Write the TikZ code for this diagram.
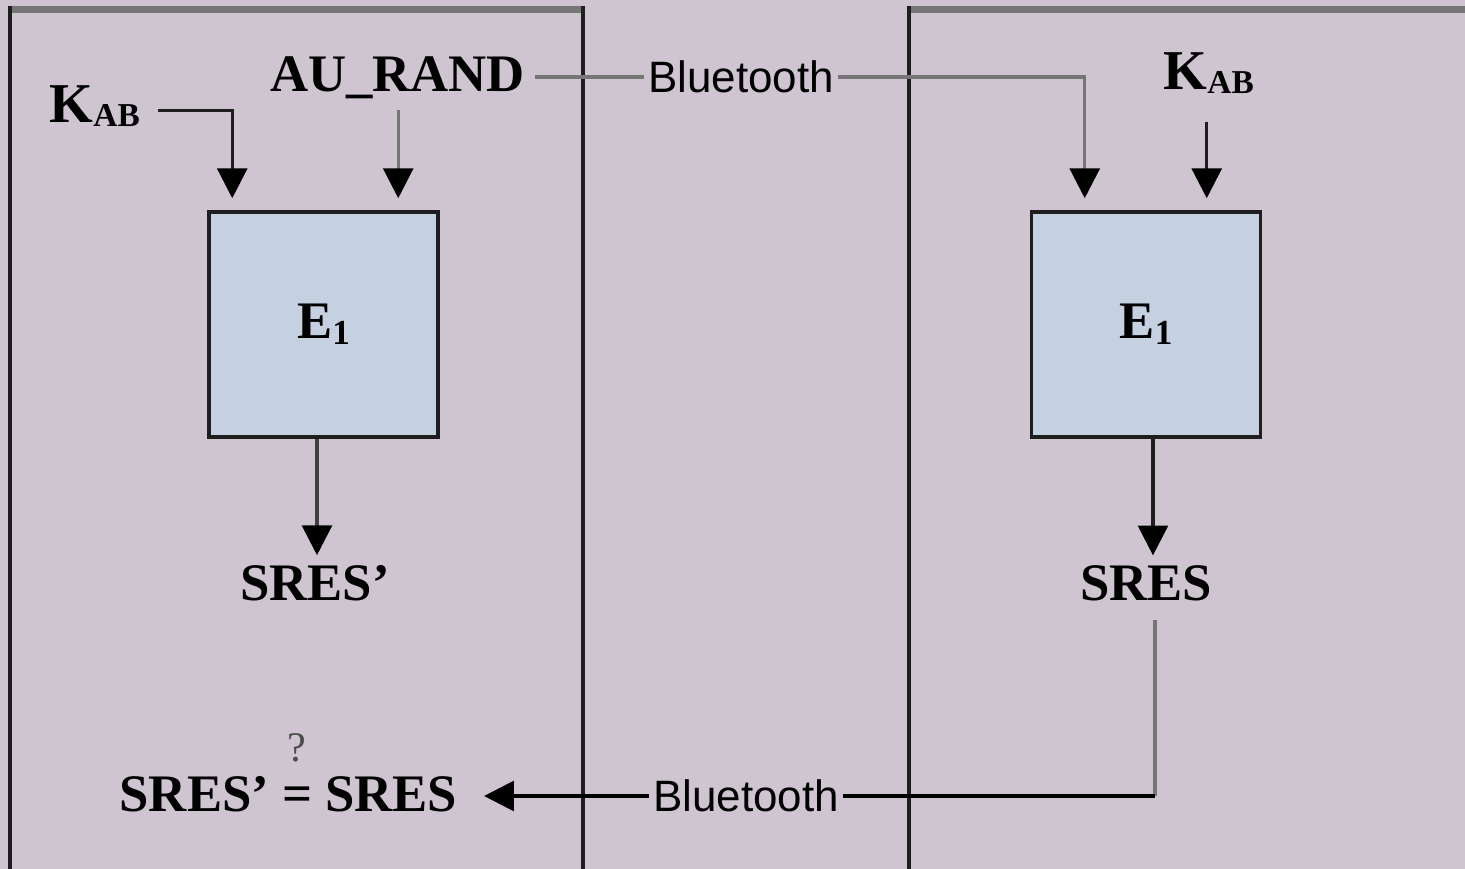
\documentclass[tikz,border=0pt]{standalone}
\usepackage{fontspec}
\setmainfont{Liberation Serif}
\newfontfamily\btfont{Liberation Sans}
\usetikzlibrary{arrows.meta,calc}
\definecolor{bg}{RGB}{206,197,209}
\definecolor{boxfill}{RGB}{197,208,224}
\definecolor{gline}{RGB}{118,118,118}
\definecolor{dline}{RGB}{30,30,30}
\newcommand{\lsub}[2]{\raisebox{#1}{\fontsize{9.5}{11}\selectfont #2}}
\begin{document}
\begin{tikzpicture}[
  lbl/.style={font=\fontsize{15}{18}\selectfont\bfseries, inner sep=0pt},
  qlbl/.style={font=\fontsize{12}{14}\selectfont, inner sep=0pt, text=black!70},
  bt/.style={font=\btfont\fontsize{12.5}{15}\selectfont, fill=bg, inner sep=1pt},
  lw/.style={line width=0.9pt},
  arr/.style={line width=0.9pt, -{Triangle[width=8.5pt,length=8.5pt,color=black]}},
  panel/.style={line width=1pt, draw=dline},
  ptop/.style={line width=1.8pt, draw=gline},
  ebox/.style={draw=dline, line width=1pt, fill=boxfill, minimum width=2.29cm,
    minimum height=2.25cm, inner sep=0pt, font=\fontsize{15}{18}\selectfont\bfseries}]
\useasboundingbox (0,0) rectangle (14.65,-8.69);
\fill[bg] (0,0) rectangle (14.65,-8.69);

% panels
\draw[ptop] (0.10,-0.095) -- (5.83,-0.095);
\draw[panel] (0.10,-0.06) -- (0.10,-8.69);
\draw[panel] (5.83,-0.06) -- (5.83,-8.69);
\draw[ptop] (9.09,-0.095) -- (14.65,-0.095);
\draw[panel] (9.09,-0.06) -- (9.09,-8.69);

% boxes
\node[ebox] (e1L) at (3.235,-3.245) {E\lsub{-1.7pt}{\fontsize{10}{12}\selectfont 1}};
\node[ebox] (e1R) at (11.46,-3.245) {E\lsub{-1.7pt}{\fontsize{10}{12}\selectfont 1}};

% labels
\node[lbl, anchor=base west, font=\fontsize{16}{18}\selectfont\bfseries] (kabL) at (0.49,-1.23) {K\lsub{-1.1pt}{AB}};
\node[lbl, anchor=base] (aurand) at (3.975,-0.92) {AU\_RAND};
\node[lbl, anchor=base west, font=\fontsize{16}{18}\selectfont\bfseries] (kabR) at (11.63,-0.90) {K\lsub{-1.1pt}{AB}};
\node[lbl, anchor=base] (sresL) at (3.15,-6.01) {SRES’};
\node[lbl, anchor=base] (sresR) at (11.46,-6.01) {SRES};
\node[lbl, anchor=base] (cmp) at (2.885,-8.12) {SRES’ = SRES};
\node[qlbl, anchor=base] (q) at (2.97,-7.62) {?};
\node[bt] (bt1) at (7.41,-0.77) {Bluetooth};
\node[bt] (bt2) at (7.46,-7.96) {Bluetooth};

% helper coordinates
\path ([xshift=0.25cm,yshift=0.12cm]e1L.north west) coordinate (inL1);
\path ([xshift=1.91cm,yshift=0.12cm]e1L.north west) coordinate (inL2);
\path ([xshift=0.55cm,yshift=0.12cm]e1R.north west) coordinate (inR1);
\path ([xshift=1.77cm,yshift=0.12cm]e1R.north west) coordinate (inR2);
\path ([yshift=-0.1cm]aurand.south) coordinate (auS);
\path ([xshift=0.09cm]aurand.east) coordinate (auE);
\path ([yshift=-0.27cm]kabR.south) coordinate (kS);
\path ([xshift=-0.065cm]e1L.south) coordinate (oL);
\path ([xshift=0.07cm]e1R.south) coordinate (oR);
\path ([xshift=0.09cm,yshift=-0.18cm]sresR.south) coordinate (rS);
\path ([xshift=0.26cm]cmp.east) coordinate (cmpE);

% connectors
\draw[arr, dline] ([xshift=0.17cm,yshift=-0.04cm]kabL.east) -| (inL1);
\draw[arr, gline] (auS -| inL2) -- (inL2);
\draw[lw, gline] (auE |- bt1.west) -- (bt1.west);
\draw[arr, gline] (bt1.east) -| (inR1);
\draw[arr, dline] (kS -| inR2) -- (inR2);
\draw[arr, black!75, shorten >=0.1cm] (oL) -- (oL |- sresL.north);
\draw[arr, dline, shorten >=0.1cm] (oR) -- (oR |- sresR.north);
\draw[lw, gline] (rS) -- (rS |- bt2.east);
\draw[lw, black] (rS |- bt2.east) -- (bt2.east);
\draw[arr, black] (bt2.west) -- (bt2.west -| cmpE);
\end{tikzpicture}
\end{document}
